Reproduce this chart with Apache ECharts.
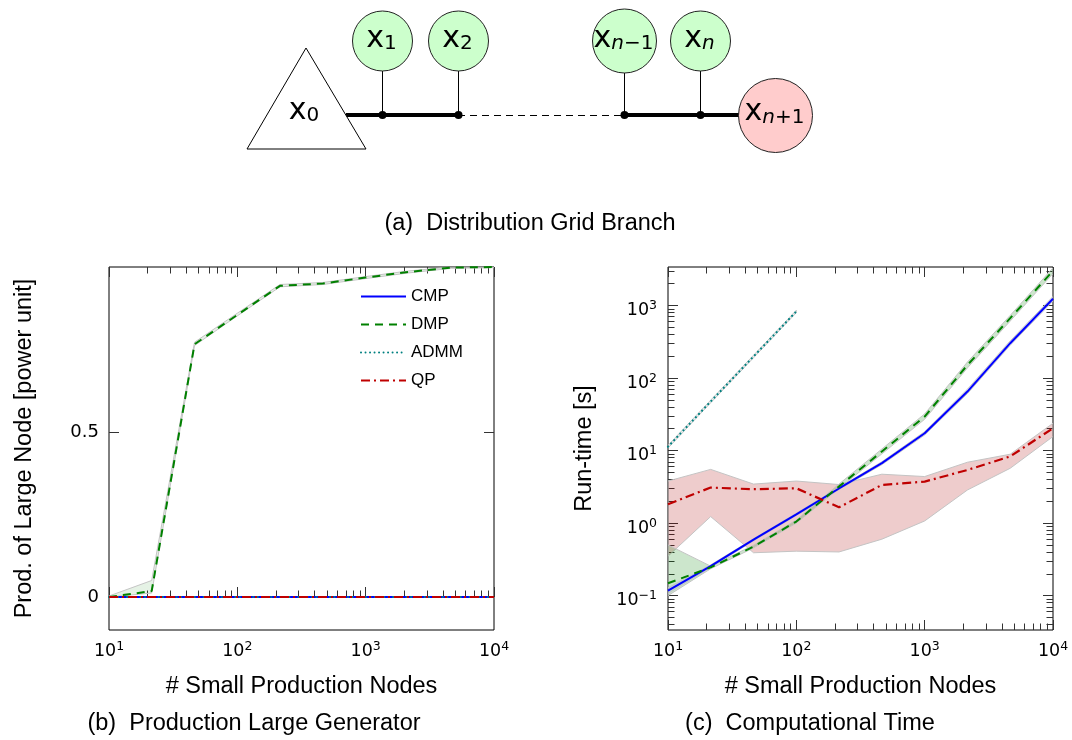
<!DOCTYPE html>
<html><head><meta charset="utf-8">
<script src="https://cdn.jsdelivr.net/npm/echarts@6/dist/echarts.min.js"></script>
<style>html,body{margin:0;padding:0;background:#fff}#c{width:1072px;height:740px}</style>
</head><body><div id="c"></div><script>
// ---------- data ----------
const nodes = [10, 21.5, 46.4, 100, 215, 464, 1000, 2154, 4642, 10000];
const seriesNames = ['CMP', 'DMP', 'ADMM', 'QP'];

// (b) production of large node [power unit]
const prodCMP   = [0, 0, 0, 0, 0, 0, 0, 0, 0, 0];
const prodDMP   = [0, 0.018, 0.766, 0.855, 0.943, 0.95, 0.968, 0.985, 0.998, 1.0];
const prodDMPLo = [0, 0.012, 0.762, 0.852, 0.940, 0.947, 0.965, 0.982, 0.996, 0.998];
const prodDMPHi = [0.003, 0.05, 0.772, 0.860, 0.947, 0.953, 0.971, 0.988, 1.0, 1.0];
const prodADMM  = [0, 0, 0, 0, 0, 0, 0, 0, 0, 0];
const prodQP    = [0, 0, 0, 0, 0, 0, 0, 0, 0, 0];

// (c) run-time [s]
const timeCMP    = [0.117, 0.255, 0.59, 1.32, 3.0, 6.7, 17.3, 65, 302, 1235];
const timeCMPLo  = [0.107, 0.245, 0.57, 1.27, 2.9, 6.4, 16.4, 61, 283, 1150];
const timeCMPHi  = [0.128, 0.265, 0.61, 1.37, 3.1, 7.0, 18.2, 70, 325, 1330];
const timeDMP    = [0.148, 0.245, 0.474, 1.05, 3.2, 9.7, 29.4, 151, 668, 3005];
const timeDMPLo  = [0.1, 0.235, 0.455, 1.0, 3.0, 9.0, 27.0, 138, 610, 2750];
const timeDMPHi  = [0.5, 0.255, 0.495, 1.1, 3.45, 10.5, 32.0, 166, 730, 3300];
const timeADMM   = [11.3, 47.4, 198, 827, null, null, null, null, null, null];
const timeADMMLo = [10.8, 45.5, 190, 795, null, null, null, null, null, null];
const timeADMMHi = [11.8, 49.5, 206, 860, null, null, null, null, null, null];
const timeQP     = [1.82, 3.09, 2.93, 3.02, 1.65, 3.36, 3.73, 5.4, 8.3, 20.3];
const timeQPLo   = [0.35, 1.23, 0.39, 0.41, 0.40, 0.60, 1.07, 2.86, 5.7, 15.6];
const timeQPHi   = [3.8, 5.5, 3.45, 3.8, 3.4, 4.72, 4.38, 6.9, 8.9, 23.8];

// tick values
const xMajor = [10, 100, 1000, 10000];
const xMinor = [20,30,40,50,60,70,80,90,200,300,400,500,600,700,800,900,2000,3000,4000,5000,6000,7000,8000,9000];
const prodTicks = [0, 0.5];
const timeMajor = [0.1, 1, 10, 100, 1000];
const timeMinor = [0.04,0.05,0.06,0.07,0.08,0.09,0.2,0.3,0.4,0.5,0.6,0.7,0.8,0.9,2,3,4,5,6,7,8,9,20,30,40,50,60,70,80,90,200,300,400,500,600,700,800,900,2000,3000];

// texts
const diagramLabels = ['0', '1', '2', 'n\u22121', 'n', 'n+1'];
const captionA = '(a)  Distribution Grid Branch';
const captionB = '(b)  Production Large Generator';
const captionC = '(c)  Computational Time';
const xTitle = '# Small Production Nodes';
const yTitleB = 'Prod. of Large Node [power unit]';
const yTitleC = 'Run-time [s]';

// ---------- styles ----------
const SANS = '"Liberation Sans", Arial, sans-serif';
const DJ = '"DejaVu Sans", sans-serif';
const colors = {CMP: '#0000ff', DMP: '#008000', ADMM: '#008080', QP: '#bf0000'};
const dashes = {CMP: 'solid', DMP: [8, 6], ADMM: [0.01, 4.5], QP: [9, 4, 2, 4]};
const caps = {CMP: 'butt', DMP: 'butt', ADMM: 'round', QP: 'butt'};
const widths = {CMP: 2, DMP: 2, ADMM: 2.2, QP: 2.2};
const MAJ = 10, MIN = 6.5;

function supFmt(v) {
  const e = Math.round(Math.log10(v));
  return '{b|10}{s|' + (e < 0 ? '\u2212' + (-e) : e) + '}';
}
const supRich = {
  b: {fontSize: 17.5, fontFamily: DJ, color: '#000', lineHeight: 20, verticalAlign: 'bottom'},
  s: {fontSize: 12.5, fontFamily: DJ, color: '#000', lineHeight: 12, verticalAlign: 'top'}
};
const tickStyle = {color: '#333', width: 1};

function logX(grid, pos, vals, len, labels) {
  return {
    type: 'log', logBase: 10, gridIndex: grid, position: pos, min: 10, max: 10000,
    axisLine: {show: false}, splitLine: {show: false},
    axisTick: {show: true, inside: true, length: len, customValues: vals, lineStyle: tickStyle},
    axisLabel: labels ? {show: true, customValues: vals, formatter: supFmt, rich: supRich, margin: 10} : {show: false}
  };
}
function logY(grid, pos, vals, len, labels) {
  return {
    type: 'log', logBase: 10, gridIndex: grid, position: pos, min: 0.0336, max: 3390,
    axisLine: {show: false}, splitLine: {show: false},
    axisTick: {show: true, inside: true, length: len, customValues: vals, lineStyle: tickStyle},
    axisLabel: labels ? {show: true, customValues: vals, formatter: supFmt, rich: supRich, margin: 11, padding: [8, 0, 0, 0]} : {show: false}
  };
}
function linY(grid, pos, labels) {
  return {
    type: 'value', gridIndex: grid, position: pos, min: -0.1, max: 1.0,
    axisLine: {show: false}, splitLine: {show: false},
    axisTick: {show: true, inside: true, length: MAJ, customValues: prodTicks, lineStyle: tickStyle},
    axisLabel: labels ? {show: true, customValues: prodTicks, formatter: v => String(v), fontSize: 18, fontFamily: DJ, color: '#000', margin: 10} : {show: false}
  };
}

function pairs(ys) { return nodes.map((x, i) => [x, ys[i]]).filter(d => d[1] != null); }

function lineSeries(name, xi, yi, ys) {
  return {
    type: 'line', name: name, xAxisIndex: xi, yAxisIndex: yi, data: pairs(ys),
    symbol: 'none', z: 3, animation: false, clip: true,
    lineStyle: {color: colors[name], width: widths[name], type: dashes[name], cap: caps[name]},
    itemStyle: {color: colors[name]}
  };
}
function bandSeries(id, xi, yi, lo, hi, fill) {
  const data = nodes.map((x, i) => [x, lo[i], hi[i]]).filter(d => d[1] != null);
  return {
    type: 'custom', id: id, name: id, xAxisIndex: xi, yAxisIndex: yi, data: data,
    encode: {x: 0, y: [1, 2]}, z: 1, silent: true, animation: false, clip: true,
    renderItem: function (params, api) {
      if (params.dataIndex !== 0) return;
      const up = data.map(d => api.coord([d[0], d[2]]));
      const dn = data.map(d => api.coord([d[0], d[1]])).reverse();
      return {type: 'polygon', shape: {points: up.concat(dn)},
        style: {fill: fill, stroke: '#c4c4c4', lineWidth: 1}};
    }
  };
}

// ---------- diagram (a) ----------
const g = [];
const lineY = 115;
const greenNodes = [{cx: 382.5, r: 30}, {cx: 458.5, r: 30}, {cx: 624.5, r: 32}, {cx: 700.5, r: 30}];
const circleY = 41;
g.push({type: 'line', shape: {x1: 346, y1: lineY, x2: 458, y2: lineY}, style: {stroke: '#000', lineWidth: 3.8}});
g.push({type: 'line', shape: {x1: 458, y1: lineY + 0.5, x2: 624.5, y2: lineY + 0.5}, style: {stroke: '#000', lineWidth: 1, lineDash: [7, 5]}});
g.push({type: 'line', shape: {x1: 624.5, y1: lineY, x2: 740, y2: lineY}, style: {stroke: '#000', lineWidth: 3.8}});
g.push({type: 'polygon', shape: {points: [[306, 48], [247, 149], [366, 149]]}, style: {fill: '#fff', stroke: '#000', lineWidth: 1}});

const nodeRich = {
  x: {fontSize: 30, fontFamily: DJ, lineHeight: 30, verticalAlign: 'bottom', color: '#000'},
  s: {fontSize: 20, fontFamily: DJ, lineHeight: 20, verticalAlign: 'bottom', color: '#000'},
  i: {fontSize: 20, fontFamily: DJ, fontStyle: 'italic', lineHeight: 20, verticalAlign: 'bottom', color: '#000'}
};
function nodeText(sub) {
  const m = sub.match(/^(n)?(.*)$/);
  let t = '{x|x}';
  if (m[1]) t += '{i|n}';
  if (m[2]) t += '{s|' + m[2] + '}';
  return t;
}
function addLabel(cx, cy, sub) {
  g.push({type: 'text', x: cx, y: cy, z: 10,
    style: {text: nodeText(sub), rich: nodeRich, align: 'center', verticalAlign: 'middle', fill: '#000'}});
}
addLabel(304, 111, diagramLabels[0]);
greenNodes.forEach((n, k) => {
  g.push({type: 'line', shape: {x1: n.cx, y1: circleY + n.r, x2: n.cx, y2: lineY}, style: {stroke: '#000', lineWidth: 1}});
  g.push({type: 'circle', shape: {cx: n.cx, cy: circleY, r: n.r}, style: {fill: '#ccffcc', stroke: '#222', lineWidth: 1}});
  g.push({type: 'circle', shape: {cx: n.cx, cy: lineY, r: 4}, style: {fill: '#000'}, z: 5});
  addLabel(n.cx - 1, circleY - 2, diagramLabels[k + 1]);
});
g.push({type: 'circle', shape: {cx: 775.5, cy: 115.5, r: 37}, style: {fill: '#ffcccc', stroke: '#222', lineWidth: 1}});
addLabel(774.5, 112.5, diagramLabels[5]);

// captions and titles
function txt(x, y, s, rot) {
  g.push({type: 'text', x: x, y: y, rotation: rot || 0, z: 10,
    style: {text: s, fontSize: 23.5, fontFamily: SANS, fill: '#000', align: 'center', verticalAlign: 'middle'}});
}
txt(530, 224, captionA);
txt(254, 724, captionB);
txt(810, 724, captionC);
txt(301.5, 687, xTitle);
txt(860.5, 687, xTitle);
txt(25, 448.5, yTitleB, Math.PI / 2);
txt(585, 448.5, yTitleC, Math.PI / 2);

// ---------- chart ----------
const chart = echarts.init(document.getElementById('c'), null, {renderer: 'canvas'});
chart.setOption({
  animation: false,
  backgroundColor: '#fff',
  grid: [
    {left: 109, top: 267, width: 385, height: 363, show: true, borderColor: '#000', borderWidth: 1, backgroundColor: 'transparent', containLabel: false},
    {left: 668, top: 267, width: 385, height: 363, show: true, borderColor: '#000', borderWidth: 1, backgroundColor: 'transparent', containLabel: false}
  ],
  xAxis: [
    logX(0, 'bottom', xMajor, MAJ, true), logX(0, 'bottom', xMinor, MIN, false),
    logX(0, 'top', xMajor, MAJ, false), logX(0, 'top', xMinor, MIN, false),
    logX(1, 'bottom', xMajor, MAJ, true), logX(1, 'bottom', xMinor, MIN, false),
    logX(1, 'top', xMajor, MAJ, false), logX(1, 'top', xMinor, MIN, false)
  ],
  yAxis: [
    linY(0, 'left', true), linY(0, 'right', false),
    logY(1, 'left', timeMajor, MAJ, true), logY(1, 'left', timeMinor, MIN, false),
    logY(1, 'right', timeMajor, MAJ, false), logY(1, 'right', timeMinor, MIN, false)
  ],
  legend: {
    data: seriesNames, orient: 'vertical', left: 360, top: 288, padding: 0,
    itemWidth: 45, itemHeight: 14, itemGap: 11,
    itemStyle: {opacity: 0, borderWidth: 0},
    textStyle: {fontSize: 17, fontFamily: SANS, color: '#000'},
    selectedMode: false
  },
  graphic: {elements: g},
  series: [
    bandSeries('bandProdDMP', 0, 0, prodDMPLo, prodDMPHi, 'rgba(0,128,0,0.1)'),
    lineSeries('CMP', 0, 0, prodCMP),
    lineSeries('DMP', 0, 0, prodDMP),
    lineSeries('ADMM', 0, 0, prodADMM),
    lineSeries('QP', 0, 0, prodQP),
    bandSeries('bandTimeQP', 4, 2, timeQPLo, timeQPHi, 'rgba(170,0,0,0.2)'),
    bandSeries('bandTimeDMP', 4, 2, timeDMPLo, timeDMPHi, 'rgba(0,128,0,0.2)'),
    bandSeries('bandTimeCMP', 4, 2, timeCMPLo, timeCMPHi, 'rgba(0,0,255,0.08)'),
    bandSeries('bandTimeADMM', 4, 2, timeADMMLo, timeADMMHi, 'rgba(0,128,128,0.1)'),
    lineSeries('CMP', 4, 2, timeCMP),
    lineSeries('DMP', 4, 2, timeDMP),
    lineSeries('ADMM', 4, 2, timeADMM),
    lineSeries('QP', 4, 2, timeQP)
  ]
});
</script></body></html>
